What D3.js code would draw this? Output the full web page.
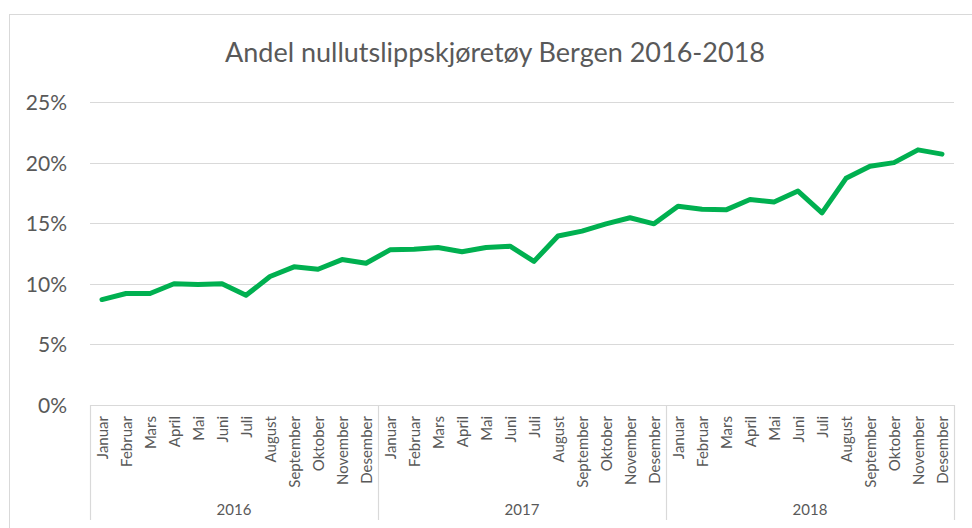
<!DOCTYPE html>
<html>
<head>
<meta charset="utf-8">
<script src="https://cdn.jsdelivr.net/npm/d3@7"></script>
<style>
  html, body { margin: 0; padding: 0; background: #fff; }
  svg { display: block; }
  text { font-family: Lato, "Open Sans", sans-serif; fill: #595959; }
</style>
</head>
<body>
<svg id="chart" width="972" height="528"></svg>
<script>
const title = "Andel nullutslippskjøretøy Bergen 2016-2018";
const years = ["2016", "2017", "2018"];
const months = ["Januar", "Februar", "Mars", "April", "Mai", "Juni", "Juli", "August", "September", "Oktober", "November", "Desember"];
const values2016 = [8.7, 9.2, 9.2, 10.0, 9.95, 10.0, 9.05, 10.6, 11.4, 11.2, 12.0, 11.7];
const values2017 = [12.8, 12.85, 13.0, 12.65, 13.0, 13.1, 11.85, 13.95, 14.35, 14.95, 15.45, 14.95];
const values2018 = [16.4, 16.15, 16.1, 16.95, 16.75, 17.65, 15.85, 18.7, 19.7, 20.0, 21.05, 20.7];
const yTicks = [0, 5, 10, 15, 20, 25];

const data = [];
[values2016, values2017, values2018].forEach((vals, yi) => {
  vals.forEach((v, mi) => data.push({ key: years[yi] + "-" + mi, year: years[yi], month: months[mi], value: v }));
});

const svg = d3.select("#chart");
const plot = { left: 90, right: 954, top: 102, bottom: 405 };

// chart border
svg.append("rect").attr("x", 9.5).attr("y", 14.5).attr("width", 980).attr("height", 540)
  .attr("fill", "none").attr("stroke", "#d9d9d9").attr("stroke-width", 1);

const titleText = svg.append("text").attr("x", 495).attr("y", 62).attr("text-anchor", "middle")
  .style("font-size", "27px").text(title);

const x = d3.scaleBand().domain(data.map(d => d.key)).range([plot.left, plot.right]).padding(0);
const y = d3.scaleLinear().domain([0, 25]).range([plot.bottom, plot.top]);

// gridlines
svg.append("g").selectAll("line").data(yTicks.filter(t => t > 0)).join("line")
  .attr("x1", plot.left).attr("x2", plot.right)
  .attr("y1", d => Math.round(y(d)) + 0.5).attr("y2", d => Math.round(y(d)) + 0.5)
  .attr("stroke", "#d9d9d9").attr("stroke-width", 1.2);

// y axis labels
const yAxis = d3.axisLeft(y).tickValues(yTicks).tickFormat(d => d + "%").tickSize(0).tickPadding(0);
const yg = svg.append("g").attr("transform", `translate(67,0)`).call(yAxis);
yg.select(".domain").remove();
yg.selectAll("text").style("font-size", "21px").attr("fill", "#595959").style("font-family", 'Lato, sans-serif').attr("dy", "0.36em");

// x axis base line
svg.append("line").attr("x1", plot.left).attr("x2", plot.right)
  .attr("y1", plot.bottom + 0.5).attr("y2", plot.bottom + 0.5)
  .attr("stroke", "#d9d9d9").attr("stroke-width", 1.2);

// group separators
const sepX = [plot.left, ...years.map(yr => x(yr + "-11") + x.bandwidth())];
svg.append("g").selectAll("line").data(sepX).join("line")
  .attr("x1", d => Math.round(d) + 0.5).attr("x2", d => Math.round(d) + 0.5)
  .attr("y1", plot.bottom).attr("y2", 520)
  .attr("stroke", "#d9d9d9").attr("stroke-width", 1.2);

// month labels
svg.append("g").selectAll("text").data(data).join("text")
  .attr("class", "month")
  .attr("transform", d => `translate(${x(d.key) + x.bandwidth() / 2 + 5.5},416) rotate(-90)`)
  .attr("text-anchor", "end")
  .style("font-size", "15px")
  .text(d => d.month);

// year labels
svg.append("g").selectAll("text").data(years).join("text")
  .attr("x", yr => (x(yr + "-0") + x(yr + "-11") + x.bandwidth()) / 2)
  .attr("y", 515)
  .attr("text-anchor", "middle")
  .style("font-size", "15px")
  .text(yr => yr);

// line
const line = d3.line().x(d => x(d.key) + x.bandwidth() / 2).y(d => y(d.value));
svg.append("path").datum(data).attr("d", line)
  .attr("fill", "none").attr("stroke", "#00b050").attr("stroke-width", 5)
  .attr("stroke-linejoin", "round").attr("stroke-linecap", "round");
</script>
</body>
</html>
